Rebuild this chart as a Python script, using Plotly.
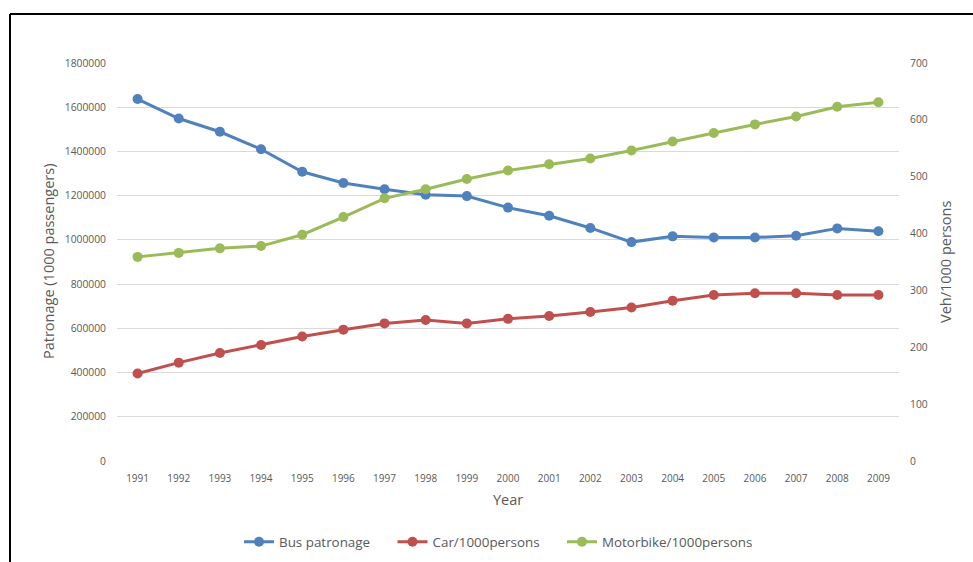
import plotly.graph_objects as go

# Years and series
years = ["1991", "1992", "1993", "1994", "1995", "1996", "1997", "1998", "1999", "2000",
         "2001", "2002", "2003", "2004", "2005", "2006", "2007", "2008", "2009"]

bus_patronage = [1637000, 1549000, 1489000, 1410000, 1308000, 1257000, 1229000, 1204000,
                 1198000, 1146000, 1109000, 1054000, 990000, 1016000, 1011000, 1011000,
                 1019000, 1052000, 1039000]

car_per_1000 = [154, 173, 190, 204, 219, 231, 242, 248, 242, 250,
                255, 262, 270, 282, 292, 295, 295, 292, 292]

motorbike_per_1000 = [359, 366, 374, 378, 398, 429, 462, 478, 496, 511,
                      522, 532, 546, 562, 577, 592, 606, 623, 631]

left_ticks = [0, 200000, 400000, 600000, 800000, 1000000, 1200000, 1400000, 1600000, 1800000]
right_ticks = [0, 100, 200, 300, 400, 500, 600, 700]

BLUE = "#4F81BD"
RED = "#C0504D"
GREEN = "#9BBB59"
GRAY = "#595959"
FONT = "Open Sans"

# extra room after each legend label so the entries spread out
PAD = "\u00a0" * 5

fig = go.Figure()

fig.add_trace(go.Scatter(
    x=years, y=bus_patronage, name="Bus patronage" + PAD, mode="lines+markers",
    line=dict(color=BLUE, width=3), marker=dict(color=BLUE, size=10), yaxis="y"))
fig.add_trace(go.Scatter(
    x=years, y=car_per_1000, name="Car/1000persons" + PAD, mode="lines+markers",
    line=dict(color=RED, width=3), marker=dict(color=RED, size=10), yaxis="y2"))
fig.add_trace(go.Scatter(
    x=years, y=motorbike_per_1000, name="Motorbike/1000persons", mode="lines+markers",
    line=dict(color=GREEN, width=3), marker=dict(color=GREEN, size=10), yaxis="y2"))

L, R, T, B = 117, 74, 63, 101
W, H = 973, 562
pw, ph = W - L - R, H - T - B


def px_x(x):
    return (x - L) / pw


def px_y(y):
    return (H - B - y) / ph


fig.update_layout(
    width=W, height=H,
    margin=dict(l=L, r=R, t=T, b=B, pad=0, autoexpand=False),
    paper_bgcolor="white", plot_bgcolor="white",
    font=dict(family=FONT, color=GRAY),
    showlegend=True,
    legend=dict(orientation="h", xref="container", yref="container",
                x=239 / W, xanchor="left", y=(H - 542) / H, yanchor="middle",
                font=dict(size=13.4, color=GRAY), bgcolor="rgba(0,0,0,0)"),
    xaxis=dict(type="category", categoryorder="array", categoryarray=years,
               range=[-0.5, len(years) - 0.5], showgrid=False, showline=False,
               zeroline=False, ticks="", tickfont=dict(size=10, color=GRAY),
               ticklabelstandoff=10, automargin=False),
    yaxis=dict(range=[0, 1800000], tickvals=left_ticks, ticktext=[str(v) for v in left_ticks],
               showgrid=True, gridcolor="#D9D9D9", gridwidth=1, zeroline=False,
               showline=False, ticks="", tickfont=dict(size=10.3, color=GRAY),
               ticklabelstandoff=10, automargin=False),
    yaxis2=dict(range=[0, 700], tickvals=right_ticks, overlaying="y", side="right",
                showgrid=False, zeroline=False, showline=False, ticks="",
                tickfont=dict(size=10.3, color=GRAY), ticklabelstandoff=10,
                automargin=False),
    annotations=[
        dict(text="Patronage (1000 passengers)", xref="paper", yref="paper",
             x=px_x(48), y=px_y(262), textangle=-90, showarrow=False,
             font=dict(size=14.5, color=GRAY), xanchor="center", yanchor="middle"),
        dict(text="Veh/1000 persons", xref="paper", yref="paper",
             x=px_x(945), y=px_y(262), textangle=-90, showarrow=False,
             font=dict(size=14.5, color=GRAY), xanchor="center", yanchor="middle"),
        dict(text="Year", xref="paper", yref="paper",
             x=px_x(508), y=px_y(499), showarrow=False,
             font=dict(size=14.5, color=GRAY), xanchor="center", yanchor="middle"),
    ],
    shapes=[
        dict(type="line", xref="paper", yref="paper", x0=px_x(10), x1=px_x(973),
             y0=px_y(14), y1=px_y(14), line=dict(color="black", width=2)),
        dict(type="line", xref="paper", yref="paper", x0=px_x(10), x1=px_x(10),
             y0=px_y(14), y1=px_y(562), line=dict(color="black", width=2)),
    ],
)

fig.write_html("out.html")
